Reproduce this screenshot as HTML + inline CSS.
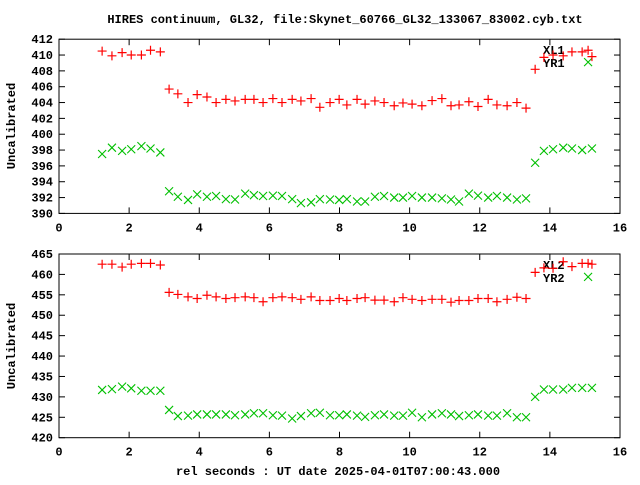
<!DOCTYPE html>
<html><head><meta charset="utf-8"><style>
html,body{margin:0;padding:0;background:#fff}
svg text{font-family:"Liberation Mono","DejaVu Sans Mono",monospace;font-weight:bold;font-size:12px;fill:#000}
</style></head><body>
<svg id="chart" width="640" height="480" xmlns="http://www.w3.org/2000/svg">
<text x="345" y="23" text-anchor="middle" font-size="11">HIRES continuum, GL32, file:Skynet_60766_GL32_133067_83002.cyb.txt</text>
<text transform="translate(15,126) rotate(-90)" text-anchor="middle">Uncalibrated</text>
<text transform="translate(15,346) rotate(-90)" text-anchor="middle">Uncalibrated</text>
<text x="338" y="475" text-anchor="middle">rel seconds : UT date 2025-04-01T07:00:43.000</text>
<g id="g"></g>
</svg>
<script>
var times=[1.23,1.51,1.80,2.06,2.35,2.61,2.89,
3.14,3.39,3.68,3.94,4.22,4.48,4.76,5.02,5.31,5.56,5.82,6.10,6.36,6.65,6.90,7.19,7.44,7.73,7.99,8.21,8.50,8.73,9.01,9.27,9.56,9.81,10.07,10.35,10.64,10.92,11.18,11.41,11.69,11.95,12.24,12.49,12.78,13.06,13.32,
13.58,13.83,14.09,14.38,14.63,14.92,15.09,15.20];
var xl1=[410.5,409.9,410.3,410.0,410.0,410.6,410.4,
405.7,405.1,404.0,405.0,404.7,404.0,404.4,404.2,404.4,404.4,404.0,404.5,404.0,404.4,404.2,404.5,403.4,404.0,404.4,403.7,404.4,
403.8,404.2,404.0,403.6,403.95,403.8,403.6,404.25,404.5,403.6,403.7,404.1,403.5,404.4,403.7,403.6,404.0,403.3,
408.2,409.7,410.0,409.9,410.4,410.4,410.6,409.8];
var yr1=[397.5,398.3,397.9,398.1,398.5,398.2,397.7,
392.8,392.1,391.7,392.4,392.1,392.2,391.8,391.75,392.5,392.3,392.2,392.25,392.2,391.8,391.3,391.4,391.8,391.75,391.7,391.8,391.5,
391.5,392.1,392.2,392.0,392.0,392.2,392.0,392.0,391.9,391.75,391.5,392.5,392.25,392.0,392.2,392.0,391.75,391.9,
396.4,397.9,398.1,398.3,398.2,398.0,409.1,398.2];
var xl2=[462.5,462.5,461.8,462.5,462.7,462.7,462.3,
455.6,455.1,454.5,454.1,454.9,454.5,454.1,454.3,454.5,454.3,453.3,454.3,454.5,454.3,453.9,454.5,453.6,453.6,454.1,453.6,454.1,
454.3,453.7,453.7,453.3,454.3,453.9,453.6,453.9,453.9,453.2,453.6,453.6,454.1,454.1,453.3,453.9,454.4,454.1,
460.5,461.6,461.5,463.1,461.9,462.7,462.7,462.5];
var yr2=[431.7,431.9,432.5,432.1,431.5,431.5,431.5,
426.8,425.3,425.4,425.7,425.7,425.7,425.7,425.5,425.7,426.0,426.0,425.5,425.4,424.7,425.3,426.0,426.1,425.5,425.5,425.7,425.4,
425.1,425.5,425.7,425.4,425.4,426.1,425.0,425.7,426.0,425.7,425.3,425.5,425.7,425.4,425.4,426.0,425.0,425.0,
430.0,431.8,431.8,431.8,432.2,432.2,459.4,432.2];
var xTicks=[0,2,4,6,8,10,12,14,16];
var topTicks=[390,392,394,396,398,400,402,404,406,408,410,412];
var botTicks=[420,425,430,435,440,445,450,455,460,465];

var NS='http://www.w3.org/2000/svg',G=document.getElementById('g');
var X0=59,X1=620;
function sx(t){return X0+(t-0)/(16-0)*(X1-X0);}
function mk(tag,at,parent){var e=document.createElementNS(NS,tag);for(var k in at)e.setAttribute(k,at[k]);(parent||G).appendChild(e);return e;}
function panel(name,top,bot,ymin,ymax,yticks,s1,s2,l1,l2,showXTitle){
  function sy(v){return bot-(v-ymin)/(ymax-ymin)*(bot-top);}
  var g=mk('g',{});
  
  
  var fr=mk('rect',{x:X0,y:top,width:X1-X0,height:bot-top,fill:'none',stroke:'#000','stroke-width':1},g);
  
  
  yticks.forEach(function(v){
    var y=sy(v);
    mk('line',{x1:X0,y1:y,x2:X0+6,y2:y,stroke:'#000'},g);
    mk('line',{x1:X1,y1:y,x2:X1-6,y2:y,stroke:'#000'},g);
    var t=mk('text',{x:X0-6,y:y+4,'text-anchor':'end'},g);t.textContent=v;
    
    
  });
  xTicks.forEach(function(v){
    var x=sx(v);
    mk('line',{x1:x,y1:bot,x2:x,y2:bot-6,stroke:'#000'},g);
    mk('line',{x1:x,y1:top,x2:x,y2:top+6,stroke:'#000'},g);
    var t=mk('text',{x:x,y:bot+18,'text-anchor':'middle'},g);t.textContent=v;
    
    
  });
  var lt=mk('text',{x:543,y:top+15},g);lt.textContent=l1;
  
  
  var lt2=mk('text',{x:543,y:top+28},g);lt2.textContent=l2;
  
  
  times.forEach(function(t,i){
    var x=sx(t),y=sy(s1[i]);
    var p=mk('path',{d:'M'+(x-4.5)+' '+y+'h9M'+x+' '+(y-4.5)+'v9',stroke:'#ff0000','stroke-width':1.2,fill:'none'},g);
    
    
    var y2=sy(s2[i]);
    var q=mk('path',{d:'M'+(x-4)+' '+(y2-4)+'l8 8M'+(x-4)+' '+(y2+4)+'l8 -8',stroke:'#00c000','stroke-width':1.1,fill:'none'},g);
    
    
  });
}
panel('top-panel',39.2,213.4,390,412,topTicks,xl1,yr1,'XL1','YR1');
panel('bottom-panel',254,437.7,420,465,botTicks,xl2,yr2,'XL2','YR2');
</script>
</body></html>
